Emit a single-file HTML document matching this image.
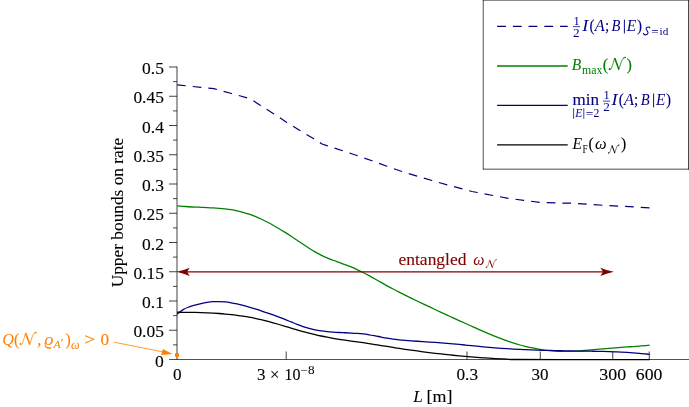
<!DOCTYPE html>
<html><head><meta charset="utf-8"><title>plot</title>
<style>html,body{margin:0;padding:0;background:#fff;overflow:hidden;}svg{display:block;will-change:transform;transform:translateZ(0);}text{font-family:"Liberation Serif",serif;}</style>
</head><body>
<svg width="689" height="407" viewBox="0 0 689 407">
<rect width="689" height="407" fill="#fff"/>
<g stroke="#000" stroke-width="0.74" fill="none">
<path d="M177.0,66.6V359.5" stroke-width="0.74"/>
<path d="M169,359.5H689" stroke-width="0.68"/>
<path d="M173,344.88H177.0"/>
<path d="M169,330.25H177.0"/>
<path d="M173,315.62H177.0"/>
<path d="M169,301.00H177.0"/>
<path d="M173,286.38H177.0"/>
<path d="M169,271.75H177.0"/>
<path d="M173,257.12H177.0"/>
<path d="M169,242.50H177.0"/>
<path d="M173,227.88H177.0"/>
<path d="M169,213.25H177.0"/>
<path d="M173,198.62H177.0"/>
<path d="M169,184.00H177.0"/>
<path d="M173,169.38H177.0"/>
<path d="M169,154.75H177.0"/>
<path d="M173,140.12H177.0"/>
<path d="M169,125.50H177.0"/>
<path d="M173,110.88H177.0"/>
<path d="M169,96.25H177.0"/>
<path d="M173,81.62H177.0"/>
<path d="M169,67.00H177.0"/>
<path d="M286.2,359.5V351.5"/>
<path d="M467.0,359.5V351.5"/>
<path d="M540.25,359.5V351.5"/>
<path d="M612.75,359.5V351.5"/>
<path d="M649.25,359.5V351.5"/>
</g>
<path d="M177.10,84.80L201.00,87.40L214.00,88.70L231.50,93.50L247.50,97.90L253.00,100.50L260.20,105.30L272.00,112.70L286.80,122.40L300.30,130.70L313.80,138.80L322.10,144.00L327.60,145.90L342.70,150.70L357.60,155.80L372.00,160.70L386.90,166.30L402.00,171.50L417.00,176.10L431.90,180.50L447.20,184.80L462.30,188.90L472.00,191.50L477.50,192.50L493.00,195.50L508.30,198.30L523.80,200.40L539.50,202.30L555.50,202.90L572.00,203.20L586.90,204.20L602.80,205.30L618.40,206.10L634.00,206.90L649.60,207.80" fill="none" stroke="#000080" stroke-width="1.2" stroke-dasharray="8.7 7"/>
<path d="M177.10,205.90C178.10,205.97 181.10,206.16 183.10,206.30C185.10,206.44 187.10,206.62 189.10,206.75C191.10,206.88 193.10,206.98 195.10,207.07C197.10,207.17 199.10,207.24 201.10,207.33C203.10,207.41 205.10,207.48 207.10,207.58C209.10,207.67 211.10,207.76 213.10,207.88C215.10,207.99 217.10,208.12 219.10,208.29C221.10,208.45 223.10,208.64 225.10,208.87C227.10,209.11 229.10,209.37 231.10,209.69C233.10,210.01 235.10,210.37 237.10,210.80C239.10,211.23 241.10,211.71 243.10,212.26C245.10,212.82 247.10,213.44 249.10,214.13C251.10,214.82 253.10,215.58 255.10,216.40C257.10,217.22 259.10,218.10 261.10,219.03C263.10,219.96 265.10,220.95 267.10,221.98C269.10,223.02 271.10,224.10 273.10,225.22C275.10,226.34 277.10,227.51 279.10,228.71C281.10,229.90 283.10,231.14 285.10,232.40C287.10,233.66 289.10,234.95 291.10,236.26C293.10,237.57 295.10,238.92 297.10,240.25C299.10,241.59 301.10,242.96 303.10,244.28C305.10,245.61 307.10,246.94 309.10,248.20C311.10,249.47 313.10,250.71 315.10,251.87C317.10,253.03 319.10,254.14 321.10,255.15C323.10,256.15 325.10,257.06 327.10,257.91C329.10,258.76 331.10,259.50 333.10,260.25C335.10,261.00 337.10,261.68 339.10,262.40C341.10,263.12 343.10,263.81 345.10,264.57C347.10,265.33 349.10,266.11 351.10,266.95C353.10,267.78 355.10,268.65 357.10,269.57C359.10,270.48 361.10,271.44 363.10,272.45C365.10,273.45 367.10,274.51 369.10,275.60C371.10,276.69 373.10,277.83 375.10,278.97C377.10,280.11 379.10,281.28 381.10,282.42C383.10,283.57 385.10,284.72 387.10,285.82C389.10,286.93 391.10,288.00 393.10,289.05C395.10,290.10 397.10,291.11 399.10,292.12C401.10,293.13 403.10,294.12 405.10,295.11C407.10,296.10 409.10,297.08 411.10,298.06C413.10,299.03 415.10,300.00 417.10,300.97C419.10,301.94 421.10,302.90 423.10,303.85C425.10,304.81 427.10,305.76 429.10,306.70C431.10,307.65 433.10,308.59 435.10,309.53C437.10,310.46 439.10,311.40 441.10,312.32C443.10,313.25 445.10,314.18 447.10,315.10C449.10,316.02 451.10,316.93 453.10,317.85C455.10,318.76 457.10,319.67 459.10,320.57C461.10,321.48 463.10,322.38 465.10,323.28C467.10,324.18 469.10,325.08 471.10,325.98C473.10,326.87 475.10,327.77 477.10,328.65C479.10,329.54 481.10,330.42 483.10,331.29C485.10,332.16 487.10,333.02 489.10,333.86C491.10,334.70 493.10,335.53 495.10,336.34C497.10,337.14 499.10,337.93 501.10,338.69C503.10,339.45 505.10,340.19 507.10,340.90C509.10,341.60 511.10,342.28 513.10,342.93C515.10,343.57 517.10,344.18 519.10,344.75C521.10,345.32 523.10,345.85 525.10,346.35C527.10,346.85 529.10,347.32 531.10,347.74C533.10,348.17 535.10,348.56 537.10,348.91C539.10,349.26 541.10,349.58 543.10,349.86C545.10,350.14 547.10,350.38 549.10,350.58C551.10,350.79 553.10,350.96 555.10,351.09C557.10,351.22 559.10,351.31 561.10,351.37C563.10,351.42 565.10,351.44 567.10,351.42C569.10,351.41 571.10,351.35 573.10,351.27C575.10,351.19 577.10,351.07 579.10,350.94C581.10,350.81 583.10,350.65 585.10,350.49C587.10,350.32 589.10,350.14 591.10,349.95C593.10,349.77 595.10,349.58 597.10,349.39C599.10,349.21 601.10,349.02 603.10,348.85C605.10,348.67 607.10,348.50 609.10,348.34C611.10,348.18 613.10,348.02 615.10,347.87C617.10,347.71 619.10,347.56 621.10,347.41C623.10,347.26 625.10,347.12 627.10,346.97C629.10,346.82 631.10,346.68 633.10,346.53C635.10,346.38 637.10,346.23 639.10,346.07C641.10,345.92 643.35,345.74 645.10,345.59C646.85,345.45 648.85,345.27 649.60,345.20" fill="none" stroke="#008000" stroke-width="1.28"/>
<path d="M177.10,314.20C178.10,313.44 181.10,310.86 183.10,309.65C185.10,308.44 187.10,307.69 189.10,306.92C191.10,306.16 193.10,305.63 195.10,305.08C197.10,304.52 199.10,304.04 201.10,303.60C203.10,303.16 205.10,302.76 207.10,302.44C209.10,302.13 211.10,301.88 213.10,301.73C215.10,301.58 217.10,301.53 219.10,301.57C221.10,301.60 223.10,301.74 225.10,301.94C227.10,302.14 229.10,302.44 231.10,302.77C233.10,303.10 235.10,303.51 237.10,303.95C239.10,304.38 241.10,304.87 243.10,305.39C245.10,305.90 247.10,306.46 249.10,307.04C251.10,307.61 253.10,308.23 255.10,308.85C257.10,309.47 259.10,310.12 261.10,310.78C263.10,311.43 265.10,312.11 267.10,312.80C269.10,313.49 271.10,314.19 273.10,314.91C275.10,315.64 277.10,316.37 279.10,317.13C281.10,317.89 283.10,318.67 285.10,319.47C287.10,320.26 289.10,321.10 291.10,321.91C293.10,322.72 295.10,323.56 297.10,324.34C299.10,325.12 301.10,325.90 303.10,326.59C305.10,327.28 307.10,327.94 309.10,328.49C311.10,329.05 313.10,329.52 315.10,329.94C317.10,330.35 319.10,330.69 321.10,330.98C323.10,331.27 325.10,331.50 327.10,331.70C329.10,331.90 331.10,332.04 333.10,332.18C335.10,332.31 337.10,332.41 339.10,332.50C341.10,332.60 343.10,332.67 345.10,332.76C347.10,332.84 349.10,332.92 351.10,333.02C353.10,333.12 355.10,333.23 357.10,333.38C359.10,333.53 361.10,333.70 363.10,333.93C365.10,334.16 367.10,334.44 369.10,334.76C371.10,335.08 373.10,335.47 375.10,335.85C377.10,336.22 379.10,336.64 381.10,337.02C383.10,337.40 385.10,337.78 387.10,338.13C389.10,338.47 391.10,338.79 393.10,339.07C395.10,339.35 397.10,339.57 399.10,339.78C401.10,339.99 403.10,340.17 405.10,340.34C407.10,340.52 409.10,340.68 411.10,340.83C413.10,340.98 415.10,341.12 417.10,341.26C419.10,341.40 421.10,341.53 423.10,341.66C425.10,341.79 427.10,341.91 429.10,342.04C431.10,342.17 433.10,342.30 435.10,342.44C437.10,342.57 439.10,342.71 441.10,342.86C443.10,343.01 445.10,343.17 447.10,343.33C449.10,343.50 451.10,343.68 453.10,343.86C455.10,344.05 457.10,344.24 459.10,344.44C461.10,344.63 463.10,344.83 465.10,345.03C467.10,345.23 469.10,345.44 471.10,345.64C473.10,345.84 475.10,346.04 477.10,346.23C479.10,346.43 481.10,346.62 483.10,346.81C485.10,346.99 487.10,347.17 489.10,347.34C491.10,347.51 493.10,347.67 495.10,347.83C497.10,347.98 499.10,348.13 501.10,348.27C503.10,348.41 505.10,348.54 507.10,348.66C509.10,348.79 511.10,348.91 513.10,349.02C515.10,349.14 517.10,349.24 519.10,349.34C521.10,349.44 523.10,349.54 525.10,349.63C527.10,349.72 529.10,349.80 531.10,349.88C533.10,349.96 535.10,350.03 537.10,350.10C539.10,350.17 541.10,350.24 543.10,350.30C545.10,350.36 547.10,350.41 549.10,350.47C551.10,350.52 553.10,350.57 555.10,350.61C557.10,350.66 559.10,350.70 561.10,350.74C563.10,350.78 565.10,350.81 567.10,350.85C569.10,350.88 571.10,350.91 573.10,350.94C575.10,350.97 577.10,351.00 579.10,351.03C581.10,351.06 583.10,351.09 585.10,351.12C587.10,351.15 589.10,351.18 591.10,351.22C593.10,351.26 595.10,351.29 597.10,351.34C599.10,351.38 601.10,351.43 603.10,351.48C605.10,351.54 607.10,351.60 609.10,351.66C611.10,351.73 613.10,351.80 615.10,351.88C617.10,351.97 619.10,352.05 621.10,352.15C623.10,352.25 625.10,352.36 627.10,352.48C629.10,352.61 631.10,352.74 633.10,352.88C635.10,353.03 637.10,353.18 639.10,353.35C641.10,353.52 643.35,353.75 645.10,353.91C646.85,354.07 648.85,354.23 649.60,354.30" fill="none" stroke="#000080" stroke-width="1.28"/>
<path d="M177.10,312.20C178.10,312.21 181.10,312.26 183.10,312.28C185.10,312.30 187.10,312.30 189.10,312.32C191.10,312.34 193.10,312.36 195.10,312.41C197.10,312.45 199.10,312.50 201.10,312.56C203.10,312.62 205.10,312.70 207.10,312.79C209.10,312.88 211.10,312.98 213.10,313.10C215.10,313.22 217.10,313.36 219.10,313.51C221.10,313.66 223.10,313.83 225.10,314.02C227.10,314.21 229.10,314.41 231.10,314.64C233.10,314.86 235.10,315.11 237.10,315.37C239.10,315.64 241.10,315.93 243.10,316.24C245.10,316.55 247.10,316.88 249.10,317.24C251.10,317.60 253.10,317.98 255.10,318.39C257.10,318.80 259.10,319.23 261.10,319.69C263.10,320.15 265.10,320.64 267.10,321.15C269.10,321.67 271.10,322.22 273.10,322.78C275.10,323.34 277.10,323.92 279.10,324.51C281.10,325.10 283.10,325.71 285.10,326.32C287.10,326.92 289.10,327.53 291.10,328.13C293.10,328.73 295.10,329.34 297.10,329.92C299.10,330.50 301.10,331.07 303.10,331.61C305.10,332.16 307.10,332.69 309.10,333.20C311.10,333.70 313.10,334.19 315.10,334.66C317.10,335.13 319.10,335.57 321.10,336.00C323.10,336.43 325.10,336.83 327.10,337.22C329.10,337.60 331.10,337.96 333.10,338.31C335.10,338.65 337.10,338.98 339.10,339.29C341.10,339.60 343.10,339.90 345.10,340.19C347.10,340.48 349.10,340.76 351.10,341.04C353.10,341.32 355.10,341.60 357.10,341.88C359.10,342.16 361.10,342.43 363.10,342.72C365.10,343.01 367.10,343.31 369.10,343.61C371.10,343.91 373.10,344.23 375.10,344.55C377.10,344.86 379.10,345.19 381.10,345.51C383.10,345.84 385.10,346.17 387.10,346.49C389.10,346.81 391.10,347.14 393.10,347.46C395.10,347.77 397.10,348.09 399.10,348.39C401.10,348.70 403.10,349.00 405.10,349.29C407.10,349.59 409.10,349.88 411.10,350.16C413.10,350.44 415.10,350.72 417.10,350.99C419.10,351.26 421.10,351.53 423.10,351.79C425.10,352.05 427.10,352.30 429.10,352.55C431.10,352.80 433.10,353.04 435.10,353.28C437.10,353.52 439.10,353.75 441.10,353.97C443.10,354.19 445.10,354.41 447.10,354.63C449.10,354.84 451.10,355.04 453.10,355.25C455.10,355.45 457.10,355.64 459.10,355.83C461.10,356.02 463.10,356.20 465.10,356.38C467.10,356.55 469.10,356.72 471.10,356.89C473.10,357.05 475.10,357.21 477.10,357.36C479.10,357.51 481.10,357.66 483.10,357.80C485.10,357.93 487.10,358.07 489.10,358.19C491.10,358.32 493.10,358.44 495.10,358.56C497.10,358.67 499.10,358.78 501.10,358.88C503.10,358.98 504.62,359.06 507.10,359.17C509.58,359.27 507.18,359.43 516.00,359.50C524.82,359.57 537.73,359.58 560.00,359.60C582.27,359.62 634.67,359.60 649.60,359.60" fill="none" stroke="#000" stroke-width="1.28"/>
<g fill="#800000" stroke="none">
<path d="M182,271.85H608" stroke="#800000" stroke-width="1.3" fill="none"/>
<path d="M613.9,271.85Q606,270.15000000000003 600.4,267.65000000000003L603.0,271.85L600.4,276.05Q606,273.55 613.9,271.85Z"/>
<path d="M176.4,271.85Q184.1,270.15000000000003 189.7,267.65000000000003L187.1,271.85L189.7,276.05Q184.1,273.55 176.4,271.85Z"/>
</g>
<path d="M114.1,342.2L163,351.9" stroke="#ff8000" stroke-width="0.8" fill="none"/>
<path d="M172.4,353.9L162.9,349.1L161.2,355.1Z" fill="#ff8000"/>
<circle cx="177" cy="355" r="2.25" fill="#ff8000"/>
<text x="155.1" y="367" font-size="17.6" fill="#000" stroke="#000" stroke-width="0.12" textLength="8.8" lengthAdjust="spacingAndGlyphs">0</text>
<text x="133.4" y="337" font-size="17.6" fill="#000" stroke="#000" stroke-width="0.12" textLength="30.5" lengthAdjust="spacingAndGlyphs">0.05</text>
<text x="142.0" y="308" font-size="17.6" fill="#000" stroke="#000" stroke-width="0.12" textLength="21.9" lengthAdjust="spacingAndGlyphs">0.1</text>
<text x="133.4" y="279" font-size="17.6" fill="#000" stroke="#000" stroke-width="0.12" textLength="30.5" lengthAdjust="spacingAndGlyphs">0.15</text>
<text x="142.0" y="250" font-size="17.6" fill="#000" stroke="#000" stroke-width="0.12" textLength="21.9" lengthAdjust="spacingAndGlyphs">0.2</text>
<text x="133.4" y="220" font-size="17.6" fill="#000" stroke="#000" stroke-width="0.12" textLength="30.5" lengthAdjust="spacingAndGlyphs">0.25</text>
<text x="142.0" y="191" font-size="17.6" fill="#000" stroke="#000" stroke-width="0.12" textLength="21.9" lengthAdjust="spacingAndGlyphs">0.3</text>
<text x="133.4" y="162" font-size="17.6" fill="#000" stroke="#000" stroke-width="0.12" textLength="30.5" lengthAdjust="spacingAndGlyphs">0.35</text>
<text x="142.0" y="133" font-size="17.6" fill="#000" stroke="#000" stroke-width="0.12" textLength="21.9" lengthAdjust="spacingAndGlyphs">0.4</text>
<text x="133.4" y="103" font-size="17.6" fill="#000" stroke="#000" stroke-width="0.12" textLength="30.5" lengthAdjust="spacingAndGlyphs">0.45</text>
<text x="142.0" y="74" font-size="17.6" fill="#000" stroke="#000" stroke-width="0.12" textLength="21.9" lengthAdjust="spacingAndGlyphs">0.5</text>
<text x="172.90" y="379.6" font-size="17.6" fill="#000" stroke="#000" stroke-width="0.12" textLength="8.6" lengthAdjust="spacingAndGlyphs">0</text>
<text x="456.45" y="379.6" font-size="17.6" fill="#000" stroke="#000" stroke-width="0.12" textLength="21.6" lengthAdjust="spacingAndGlyphs">0.3</text>
<text x="531.60" y="379.6" font-size="17.6" fill="#000" stroke="#000" stroke-width="0.12" textLength="17.0" lengthAdjust="spacingAndGlyphs">30</text>
<text x="599.30" y="379.6" font-size="17.6" fill="#000" stroke="#000" stroke-width="0.12" textLength="26.8" lengthAdjust="spacingAndGlyphs">300</text>
<text x="635.80" y="379.6" font-size="17.6" fill="#000" stroke="#000" stroke-width="0.12" textLength="26.6" lengthAdjust="spacingAndGlyphs">600</text>
<text x="256.9" y="379.6" font-size="17.6" fill="#000" stroke="#000" stroke-width="0.12" textLength="8.5" lengthAdjust="spacingAndGlyphs">3</text>
<text x="270.0" y="379.6" font-size="17.6" fill="#000" stroke="#000" stroke-width="0.12" textLength="9.4" lengthAdjust="spacingAndGlyphs">×</text>
<text x="284.6" y="379.6" font-size="17.6" fill="#000" stroke="#000" stroke-width="0.12" textLength="16.0" lengthAdjust="spacingAndGlyphs">10</text>
<text x="300.5" y="374.0" font-size="12" fill="#000" stroke="#000" stroke-width="0" textLength="14.0" lengthAdjust="spacingAndGlyphs">−8</text>
<text x="413.2" y="402" font-size="16" fill="#000" stroke="#000" stroke-width="0" font-style="italic" textLength="9.6" lengthAdjust="spacingAndGlyphs">L</text>
<text x="426.6" y="402" font-size="17" fill="#000" stroke="#000" stroke-width="0.12" textLength="25.9" lengthAdjust="spacingAndGlyphs">[m]</text>
<text transform="translate(123.2,212.5) rotate(-90)" font-size="16.6" text-anchor="middle" textLength="149.6" lengthAdjust="spacingAndGlyphs" fill="#000" stroke="#000" stroke-width="0.1">Upper bounds on rate</text>
<text x="398.5" y="265.3" font-size="16.6" fill="#800000" stroke="#800000" stroke-width="0.12" textLength="68" lengthAdjust="spacingAndGlyphs">entangled</text>
<text x="473.3" y="265.3" font-size="16" fill="#800000" stroke="#800000" stroke-width="0" font-style="italic" textLength="11.2" lengthAdjust="spacingAndGlyphs">ω</text>
<g transform="translate(485.3,267.8) scale(0.64)" fill="#800000" stroke="#800000"><circle cx="1.7" cy="-0.9" r="1.0" stroke="none"/><path d="M1.5,-0.2C3.4,0.1 4.3,-3.5 6.7,-11.9" fill="none" stroke-width="0.75"/><path d="M6.1,-11.6L7.6,-12.3L11.6,-0.9L10.5,0.2Z" stroke="none"/><path d="M10.9,-0.4C12.6,-5.5 13.6,-9.8 15.1,-11.5C16.0,-12.5 17.0,-12.9 17.9,-12.7" fill="none" stroke-width="0.8"/><path d="M15.0,-11.6C16.0,-12.8 17.2,-13.2 18.0,-12.9L17.7,-12.1C17,-12.2 16.2,-12 15.6,-11.3Z" stroke="none"/></g>
<rect x="483.3" y="0" width="205.2" height="169.2" fill="#fff" stroke="none"/>
<g stroke="#000" fill="none"><path d="M483.25,0V169.5" stroke-width="0.68"/><path d="M482.9,0.05H689" stroke-width="0.85"/><path d="M688.5,0V169.5" stroke-width="0.72"/><path d="M482.9,169.17H689" stroke-width="0.72"/></g>
<path d="M497.1,26.45H567.7" stroke="#000080" stroke-width="1.25" stroke-dasharray="8.8 6.95" fill="none"/>
<path d="M497.1,66.0H567.7" stroke="#008000" stroke-width="1.3" fill="none"/>
<path d="M497.1,105.45H567.7" stroke="#000080" stroke-width="1.3" fill="none"/>
<path d="M497.1,144.95H567.7" stroke="#000" stroke-width="1.3" fill="none"/>
<text x="573.5" y="24.7" font-size="11.5" fill="#000080" stroke="#000080" stroke-width="0" textLength="6.2" lengthAdjust="spacingAndGlyphs">1</text>
<text x="573.0999999999999" y="36.6" font-size="11.5" fill="#000080" stroke="#000080" stroke-width="0" textLength="6.6" lengthAdjust="spacingAndGlyphs">2</text>
<path d="M573.0,26.6H580.0" stroke="#000080" stroke-width="0.75"/>
<text x="582.3" y="31.0" font-size="16" fill="#000080" stroke="#000080" stroke-width="0" font-style="italic" textLength="6.0" lengthAdjust="spacingAndGlyphs">I</text>
<text x="589.5" y="31.0" font-size="16" fill="#000080" stroke="#000080" stroke-width="0.12" textLength="5.0" lengthAdjust="spacingAndGlyphs">(</text>
<text x="594.6999999999999" y="31.0" font-size="16" fill="#000080" stroke="#000080" stroke-width="0" font-style="italic" textLength="10.0" lengthAdjust="spacingAndGlyphs">A</text>
<text x="604.9" y="31.0" font-size="16" fill="#000080" stroke="#000080" stroke-width="0.12" textLength="4.2" lengthAdjust="spacingAndGlyphs">;</text>
<text x="611.5" y="31.0" font-size="16" fill="#000080" stroke="#000080" stroke-width="0" font-style="italic" textLength="8.9" lengthAdjust="spacingAndGlyphs">B</text>
<path d="M624.4,19.6V33.4" stroke="#000080" stroke-width="0.95"/>
<text x="626.6999999999999" y="31.0" font-size="16" fill="#000080" stroke="#000080" stroke-width="0" font-style="italic" textLength="9.4" lengthAdjust="spacingAndGlyphs">E</text>
<text x="636.9" y="31.0" font-size="16" fill="#000080" stroke="#000080" stroke-width="0.12" textLength="5.0" lengthAdjust="spacingAndGlyphs">)</text>
<g transform="translate(643.0,34.9)" fill="none" stroke="#000080"><path d="M6.9,-7.1C6.6,-8.3 3.8,-8.4 3.1,-6.6C2.4,-4.7 5.7,-3.9 5.0,-1.7C4.3,0.5 0.9,0.5 0.3,-1.5" fill="none" stroke-width="1.05" stroke-linecap="round"/></g>
<text x="651.2" y="36.1" font-size="11.5" fill="#000080" stroke="#000080" stroke-width="0" textLength="7.4" lengthAdjust="spacingAndGlyphs">=</text>
<text x="659.6" y="34.9" font-size="10.9" fill="#000080" stroke="#000080" stroke-width="0" textLength="8.7" lengthAdjust="spacingAndGlyphs">id</text>
<text x="571.8" y="69.5" font-size="16" fill="#008000" stroke="#008000" stroke-width="0" font-style="italic" textLength="9.5" lengthAdjust="spacingAndGlyphs">B</text>
<text x="582.0" y="74.2" font-size="11.5" fill="#008000" stroke="#008000" stroke-width="0" textLength="20.3" lengthAdjust="spacingAndGlyphs">max</text>
<text x="602.7" y="69.5" font-size="16" fill="#008000" stroke="#008000" stroke-width="0.12" textLength="5.4" lengthAdjust="spacingAndGlyphs">(</text>
<g transform="translate(607.9,70.0)" fill="#008000" stroke="#008000"><circle cx="1.7" cy="-0.9" r="1.0" stroke="none"/><path d="M1.5,-0.2C3.4,0.1 4.3,-3.5 6.7,-11.9" fill="none" stroke-width="0.75"/><path d="M6.1,-11.6L7.6,-12.3L11.6,-0.9L10.5,0.2Z" stroke="none"/><path d="M10.9,-0.4C12.6,-5.5 13.6,-9.8 15.1,-11.5C16.0,-12.5 17.0,-12.9 17.9,-12.7" fill="none" stroke-width="0.8"/><path d="M15.0,-11.6C16.0,-12.8 17.2,-13.2 18.0,-12.9L17.7,-12.1C17,-12.2 16.2,-12 15.6,-11.3Z" stroke="none"/></g>
<text x="626.6" y="69.5" font-size="16" fill="#008000" stroke="#008000" stroke-width="0.12" textLength="5.4" lengthAdjust="spacingAndGlyphs">)</text>
<text x="572.6" y="105.3" font-size="16" fill="#000080" stroke="#000080" stroke-width="0.12" textLength="26.5" lengthAdjust="spacingAndGlyphs">min</text>
<path d="M573.6,108.2V118.8" stroke="#000080" stroke-width="0.75"/>
<text x="575.2" y="117.2" font-size="11.5" fill="#000080" stroke="#000080" stroke-width="0" font-style="italic" textLength="7.0" lengthAdjust="spacingAndGlyphs">E</text>
<path d="M583.8,108.2V118.8" stroke="#000080" stroke-width="0.75"/>
<text x="585.7" y="117.9" font-size="11.5" fill="#000080" stroke="#000080" stroke-width="0" textLength="7.6" lengthAdjust="spacingAndGlyphs">=</text>
<text x="593.6" y="117.0" font-size="11.5" fill="#000080" stroke="#000080" stroke-width="0" textLength="5.8" lengthAdjust="spacingAndGlyphs">2</text>
<text x="603.6" y="98.9" font-size="11.5" fill="#000080" stroke="#000080" stroke-width="0" textLength="6.2" lengthAdjust="spacingAndGlyphs">1</text>
<text x="603.1999999999999" y="111.0" font-size="11.5" fill="#000080" stroke="#000080" stroke-width="0" textLength="6.6" lengthAdjust="spacingAndGlyphs">2</text>
<path d="M603.1,101.1H610.1" stroke="#000080" stroke-width="0.75"/>
<text x="611.5" y="105.0" font-size="16" fill="#000080" stroke="#000080" stroke-width="0" font-style="italic" textLength="6.0" lengthAdjust="spacingAndGlyphs">I</text>
<text x="618.7" y="105.0" font-size="16" fill="#000080" stroke="#000080" stroke-width="0.12" textLength="5.0" lengthAdjust="spacingAndGlyphs">(</text>
<text x="623.9" y="105.0" font-size="16" fill="#000080" stroke="#000080" stroke-width="0" font-style="italic" textLength="10.0" lengthAdjust="spacingAndGlyphs">A</text>
<text x="634.1" y="105.0" font-size="16" fill="#000080" stroke="#000080" stroke-width="0.12" textLength="4.2" lengthAdjust="spacingAndGlyphs">;</text>
<text x="640.7" y="105.0" font-size="16" fill="#000080" stroke="#000080" stroke-width="0" font-style="italic" textLength="8.9" lengthAdjust="spacingAndGlyphs">B</text>
<path d="M653.6,93.6V107.4" stroke="#000080" stroke-width="0.95"/>
<text x="655.9" y="105.0" font-size="16" fill="#000080" stroke="#000080" stroke-width="0" font-style="italic" textLength="9.4" lengthAdjust="spacingAndGlyphs">E</text>
<text x="666.1" y="105.0" font-size="16" fill="#000080" stroke="#000080" stroke-width="0.12" textLength="5.0" lengthAdjust="spacingAndGlyphs">)</text>
<text x="572.4" y="148.7" font-size="16" fill="#000" stroke="#000" stroke-width="0" font-style="italic" textLength="9.6" lengthAdjust="spacingAndGlyphs">E</text>
<text x="582.4" y="152.7" font-size="11.5" fill="#000" stroke="#000" stroke-width="0" textLength="5.2" lengthAdjust="spacingAndGlyphs">F</text>
<text x="588.5" y="148.7" font-size="16" fill="#000" stroke="#000" stroke-width="0.12" textLength="5.2" lengthAdjust="spacingAndGlyphs">(</text>
<text x="594.9" y="148.7" font-size="16" fill="#000" stroke="#000" stroke-width="0" font-style="italic" textLength="11.6" lengthAdjust="spacingAndGlyphs">ω</text>
<g transform="translate(607.5,153.4) scale(0.66)" fill="#000" stroke="#000"><circle cx="1.7" cy="-0.9" r="1.0" stroke="none"/><path d="M1.5,-0.2C3.4,0.1 4.3,-3.5 6.7,-11.9" fill="none" stroke-width="0.75"/><path d="M6.1,-11.6L7.6,-12.3L11.6,-0.9L10.5,0.2Z" stroke="none"/><path d="M10.9,-0.4C12.6,-5.5 13.6,-9.8 15.1,-11.5C16.0,-12.5 17.0,-12.9 17.9,-12.7" fill="none" stroke-width="0.8"/><path d="M15.0,-11.6C16.0,-12.8 17.2,-13.2 18.0,-12.9L17.7,-12.1C17,-12.2 16.2,-12 15.6,-11.3Z" stroke="none"/></g>
<text x="621.0" y="148.7" font-size="16" fill="#000" stroke="#000" stroke-width="0.12" textLength="5.2" lengthAdjust="spacingAndGlyphs">)</text>
<text x="2.3" y="344.6" font-size="16" fill="#ff8000" stroke="#ff8000" stroke-width="0" font-style="italic" textLength="11.6" lengthAdjust="spacingAndGlyphs">Q</text>
<text x="14.0" y="344.6" font-size="16" fill="#ff8000" stroke="#ff8000" stroke-width="0.12" textLength="5.2" lengthAdjust="spacingAndGlyphs">(</text>
<g transform="translate(18.8,345.0)" fill="#ff8000" stroke="#ff8000"><circle cx="1.7" cy="-0.9" r="1.0" stroke="none"/><path d="M1.5,-0.2C3.4,0.1 4.3,-3.5 6.7,-11.9" fill="none" stroke-width="0.75"/><path d="M6.1,-11.6L7.6,-12.3L11.6,-0.9L10.5,0.2Z" stroke="none"/><path d="M10.9,-0.4C12.6,-5.5 13.6,-9.8 15.1,-11.5C16.0,-12.5 17.0,-12.9 17.9,-12.7" fill="none" stroke-width="0.8"/><path d="M15.0,-11.6C16.0,-12.8 17.2,-13.2 18.0,-12.9L17.7,-12.1C17,-12.2 16.2,-12 15.6,-11.3Z" stroke="none"/></g>
<text x="37.2" y="344.6" font-size="16" fill="#ff8000" stroke="#ff8000" stroke-width="0.12" textLength="4.0" lengthAdjust="spacingAndGlyphs">,</text>
<text x="44.2" y="344.6" font-size="16" fill="#ff8000" stroke="#ff8000" stroke-width="0" font-style="italic" textLength="9.2" lengthAdjust="spacingAndGlyphs">ϱ</text>
<text x="53.4" y="348.4" font-size="10.4" fill="#ff8000" stroke="#ff8000" stroke-width="0" font-style="italic" textLength="7.2" lengthAdjust="spacingAndGlyphs">A</text>
<text x="60.6" y="345.8" font-size="9.5" fill="#ff8000" stroke="#ff8000" stroke-width="0" textLength="3.2" lengthAdjust="spacingAndGlyphs">′</text>
<text x="65.4" y="344.6" font-size="16" fill="#ff8000" stroke="#ff8000" stroke-width="0.12" textLength="5.2" lengthAdjust="spacingAndGlyphs">)</text>
<text x="71.0" y="348.6" font-size="11.5" fill="#ff8000" stroke="#ff8000" stroke-width="0" font-style="italic" textLength="8.6" lengthAdjust="spacingAndGlyphs">ω</text>
<text x="84.2" y="344.6" font-size="16" fill="#ff8000" stroke="#ff8000" stroke-width="0.12" textLength="11.2" lengthAdjust="spacingAndGlyphs">&gt;</text>
<text x="100.5" y="344.6" font-size="16" fill="#ff8000" stroke="#ff8000" stroke-width="0.12" textLength="8.6" lengthAdjust="spacingAndGlyphs">0</text>
</svg>
</body></html>
